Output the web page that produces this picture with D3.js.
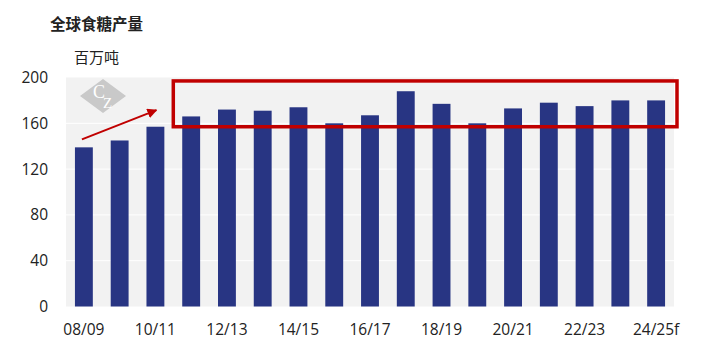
<!DOCTYPE html>
<html>
<head>
<meta charset="utf-8">
<script src="https://cdn.jsdelivr.net/npm/d3@7"></script>
<style>
  body { margin: 0; background: #fff; }
  text { font-family: "Open Sans", "Noto Sans CJK SC", sans-serif; fill: #222; }
</style>
</head>
<body>
<script>
// world sugar production, million tonnes
const seasons = ["08/09", "09/10", "10/11", "11/12", "12/13", "13/14", "14/15", "15/16",
    "16/17", "17/18", "18/19", "19/20", "20/21", "21/22", "22/23", "23/24", "24/25f"];
const output = [139, 145, 157, 166, 172, 171, 174, 160, 167, 188, 177, 160, 173, 178, 175, 180, 180];
const yTicks = [0, 40, 80, 120, 160, 200];

const W = 712, H = 349;
const margin = {top: 77.5, right: 38, bottom: 42.5, left: 66};
const width = W - margin.left - margin.right,
      height = H - margin.top - margin.bottom;

const svg = d3.select("body").append("svg")
    .attr("width", W)
    .attr("height", H);

svg.append("text")
    .attr("x", 50).attr("y", 30)
    .style("font-size", "15.5px").style("font-weight", "bold")
    .text("全球食糖产量");

svg.append("text")
    .attr("x", 74).attr("y", 63)
    .style("font-size", "15px")
    .text("百万吨");

const g = svg.append("g")
    .attr("transform", `translate(${margin.left},${margin.top})`);

const x = d3.scaleBand()
    .domain(seasons)
    .range([0, width])
    .paddingInner(0.5)
    .paddingOuter(0.25);

const y = d3.scaleLinear()
    .domain([0, 200])
    .range([height, 0]);

g.append("rect")
    .attr("width", width).attr("height", height)
    .attr("fill", "#f2f2f2");

g.selectAll(".grid")
    .data(yTicks.slice(1, -1))
    .enter().append("line")
    .attr("x1", 0).attr("x2", width)
    .attr("y1", d => y(d)).attr("y2", d => y(d))
    .attr("stroke", "#fff").attr("stroke-width", 1);

// watermark
const logo = g.append("g").attr("transform", "translate(37,18.5)");
logo.append("path")
    .attr("d", "M0,-17L23,0L0,17L-23,0Z")
    .attr("fill", "#c9c9c9");
const mark = logo.append("text")
    .style("font-family", "'Liberation Serif', serif")
    .style("fill", "#fff");
mark.append("tspan").attr("x", -10).attr("y", 2)
    .style("font-size", "18px").text("C");
mark.append("tspan").attr("x", 0).attr("y", 12)
    .style("font-size", "15px").text("Z");

g.selectAll(".bar")
    .data(seasons)
    .enter().append("rect")
    .attr("class", "bar")
    .attr("x", d => x(d))
    .attr("y", (d, i) => y(output[i]))
    .attr("width", x.bandwidth())
    .attr("height", (d, i) => height - y(output[i]))
    .attr("fill", "#283583");

g.selectAll(".ylab")
    .data(yTicks)
    .enter().append("text")
    .attr("x", -18)
    .attr("y", d => y(d))
    .attr("dy", "0.36em")
    .attr("text-anchor", "end")
    .style("font-size", "15.5px")
    .text(d => d);

g.selectAll(".xlab")
    .data(seasons.filter((d, i) => i % 2 === 0))
    .enter().append("text")
    .attr("x", d => x(d) + x.bandwidth() / 2)
    .attr("y", height + 28.5)
    .attr("text-anchor", "middle")
    .style("font-size", "15.5px")
    .text(d => d);

// highlight box around 11/12 onwards
const step = x.step();
g.append("rect")
    .attr("x", x(seasons[3]) - step * 0.25)
    .attr("y", y(197))
    .attr("width", width + 3 - (x(seasons[3]) - step * 0.25))
    .attr("height", y(157) - y(197))
    .attr("fill", "none")
    .attr("stroke", "#c00000")
    .attr("stroke-width", 3.5);

// growth arrow
svg.append("defs").append("marker")
    .attr("id", "head")
    .attr("viewBox", "0 0 10 10")
    .attr("refX", 9).attr("refY", 5)
    .attr("markerWidth", 5).attr("markerHeight", 5)
    .attr("orient", "auto")
    .append("path")
    .attr("d", "M0,0L10,5L0,10Z")
    .attr("fill", "#c00000");

g.append("line")
    .attr("x1", x(seasons[0]) + 7).attr("y1", y(146))
    .attr("x2", x(seasons[2]) + x.bandwidth() / 2 + 1).attr("y2", y(171.5))
    .attr("stroke", "#c00000")
    .attr("stroke-width", 2)
    .attr("marker-end", "url(#head)");
</script>
</body>
</html>
